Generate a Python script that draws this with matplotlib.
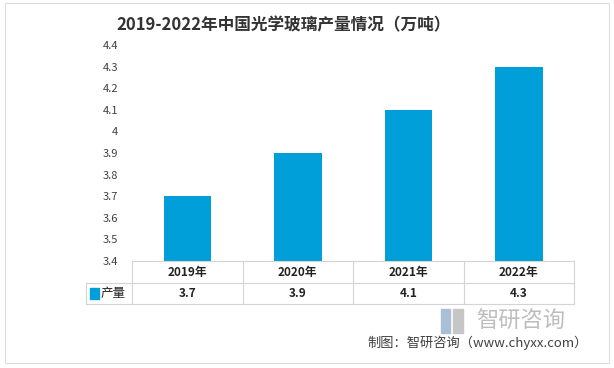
import numpy as np
import matplotlib.pyplot as plt
from matplotlib.patches import Rectangle
import matplotlib.transforms as mtransforms

plt.rcParams['font.family'] = ['Noto Sans CJK SC', 'DejaVu Sans']

# データ
years = ['2019年', '2020年', '2021年', '2022年']
output = [3.7, 3.9, 4.1, 4.3]
yticks = [3.4, 3.5, 3.6, 3.7, 3.8, 3.9, 4.0, 4.1, 4.2, 4.3, 4.4]
ytick_labels = ['3.4', '3.5', '3.6', '3.7', '3.8', '3.9', '4', '4.1', '4.2', '4.3', '4.4']
series_name = '产量'

bar_color = '#009fda'
line_color = '#d4d4d4'

fig = plt.figure(figsize=(6.14, 3.68), dpi=100)
ax = fig.add_axes([0.215, 0.2908, 0.72, 0.5869])

x = np.arange(len(years))
ax.bar(x, [v - 3.4 for v in output], bottom=3.4, width=0.43, color=bar_color)
ax.set_xlim(-0.5, len(years) - 0.5)
ax.set_ylim(3.4, 4.4)
ax.set_yticks(yticks)
ax.set_yticklabels(ytick_labels, fontsize=8, color='#404040')
ax.tick_params(axis='y', length=0, pad=10)
ax.set_xticks([])
for s in ax.spines.values():
    s.set_visible(False)

# 表 (データ座標 x, 軸座標 y)
tr = mtransforms.blended_transform_factory(ax.transData, ax.transAxes)
r0, r1, r2 = 0.0, -0.102, -0.199
left = -0.916
kw = dict(color=line_color, lw=0.8, transform=tr, clip_on=False)
ax.plot([-0.5, 3.5], [r0, r0], **kw)
ax.plot([left, 3.5], [r1, r1], **kw)
ax.plot([left, 3.5], [r2, r2], **kw)
ax.plot([left, left], [r1, r2], **kw)
for b in np.arange(-0.5, 3.6, 1.0):
    ax.plot([b, b], [r0, r2], **kw)

for i, (yr, v) in enumerate(zip(years, output)):
    ax.text(i, (r0 + r1) / 2, yr, ha='center', va='center', fontsize=8.5,
            fontweight='bold', color='#222222', transform=tr)
    ax.text(i, (r1 + r2) / 2, f'{v}', ha='center', va='center', fontsize=8.5,
            fontweight='bold', color='#222222', transform=tr)

ax.add_patch(Rectangle((left + 0.04, (r1 + r2) / 2 - 0.025), 0.075, 0.05,
                       color=bar_color, transform=tr, clip_on=False))
ax.text(left + 0.13, (r1 + r2) / 2, series_name, ha='left', va='center',
        fontsize=9, color='#222222', transform=tr)

# タイトル
fig.text(0.462, 0.93, '2019-2022年中国光学玻璃产量情况（万吨）', ha='center', va='center',
         fontsize=12, fontweight='bold', color='#333333')

# 枠
fig.add_artist(Rectangle((5 / 614, 1 - 363 / 368), 604 / 614, 360 / 368,
                         fill=False, edgecolor='#dddddd', lw=0.8,
                         transform=fig.transFigure))

# ウォーターマーク
fig.add_artist(Rectangle((441 / 614, 1 - 333 / 368), 9 / 614, 24 / 368,
                         color='#a9bfd6', transform=fig.transFigure))
fig.add_artist(Rectangle((453 / 614, 1 - 333 / 368), 10 / 614, 24 / 368,
                         color='#c6c6c6', transform=fig.transFigure))
fig.text(476 / 614, 1 - 321 / 368, '智研咨询', ha='left', va='center', fontsize=16,
         color='#bdbdbd')
fig.text(367 / 614, 1 - 343 / 368, '制图：智研咨询（www.chyxx.com）', ha='left', va='center',
         fontsize=9.5, color='#404040')

fig.savefig('out.png', dpi=100)
